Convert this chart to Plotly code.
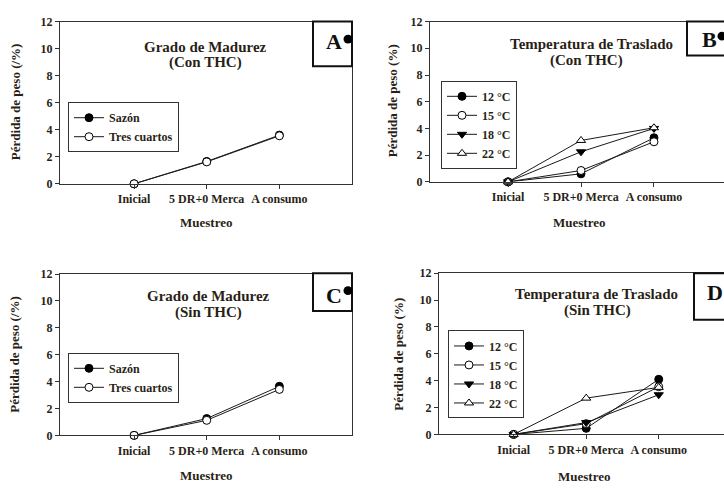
import plotly.graph_objects as go

W, H = 724, 489

# ---- data ----
categories = ["Inicial", "5 DR+0 Merca", "A consumo"]
cat_pos = [0, 1, 2]

a_sazon = [0, 1.65, 3.6]
a_tres = [0, 1.62, 3.55]

b_12 = [0, 0.6, 3.3]
b_15 = [0, 0.85, 3.0]
b_18 = [0, 2.25, 4.0]
b_22 = [0, 3.1, 4.05]

c_sazon = [0, 1.25, 3.65]
c_tres = [0, 1.12, 3.42]

d_12 = [0, 0.45, 4.1]
d_15 = [0, 0.8, 3.55]
d_18 = [0, 0.88, 2.95]
d_22 = [0, 2.7, 3.5]

y_ticks = [0, 2, 4, 6, 8, 10, 12]

FONT = "Liberation Serif"
TXT = "#2a1f16"
LINE = "#1a1a1a"

def px(x):
    return x / W

def py(y):
    return 1 - y / H

fig = go.Figure()

panels = {
    "A": dict(xd=(60, 352), yd=(15, 182), xr=(-1.02, 3.0), mirror=True),
    "B": dict(xd=(430, 724), yd=(15, 180), xr=(-1.07, 2.96), mirror=False),
    "C": dict(xd=(60, 352), yd=(275, 441), xr=(-1.02, 3.0), mirror=True),
    "D": dict(xd=(439, 724), yd=(274, 440), xr=(-1.03, 2.9), mirror=False),
}
axis_ids = {"A": ("x", "y"), "B": ("x2", "y2"), "C": ("x3", "y3"), "D": ("x4", "y4")}
legend_ids = {"A": "legend", "B": "legend2", "C": "legend3", "D": "legend4"}

sym_filled = dict(symbol="circle", color="black", line=dict(color="black", width=1))
sym_open = dict(symbol="circle", color="white", line=dict(color="black", width=1))
tri_down = dict(symbol="triangle-down", color="black", line=dict(color="black", width=1))
tri_up = dict(symbol="triangle-up", color="white", line=dict(color="black", width=1))

series = {
    "A": [("Sazón", a_sazon, sym_filled), ("Tres cuartos", a_tres, sym_open)],
    "B": [("12 °C", b_12, sym_filled), ("15 °C", b_15, sym_open),
          ("18 °C", b_18, tri_down), ("22 °C", b_22, tri_up)],
    "C": [("Sazón", c_sazon, sym_filled), ("Tres cuartos", c_tres, sym_open)],
    "D": [("12 °C", d_12, sym_filled), ("15 °C", d_15, sym_open),
          ("18 °C", d_18, tri_down), ("22 °C", d_22, tri_up)],
}

for key, lst in series.items():
    xa, ya = axis_ids[key]
    for name, vals, mk in lst:
        fig.add_trace(go.Scatter(
            x=cat_pos, y=vals, name=name, mode="lines+markers",
            xaxis=xa, yaxis=ya, legend=legend_ids[key],
            line=dict(color=LINE, width=1),
            marker=dict(size=8, **mk), cliponaxis=False,
        ))

layout = dict(
    width=W, height=H, margin=dict(l=0, r=0, t=0, b=0),
    paper_bgcolor="white", plot_bgcolor="white",
    font=dict(family=FONT, color=TXT, size=11),
)

for key, p in panels.items():
    xa, ya = axis_ids[key]
    xname = "xaxis" if xa == "x" else "xaxis" + xa[1:]
    yname = "yaxis" if ya == "y" else "yaxis" + ya[1:]
    layout[xname] = dict(
        domain=[px(p["xd"][0]), px(p["xd"][1])], range=list(p["xr"]),
        anchor=ya, tickmode="array", tickvals=cat_pos, ticktext=categories,
        ticks="outside", ticklen=4, tickcolor="#333", showgrid=False, zeroline=False,
        showline=True, linecolor="#333", linewidth=1, mirror=True,
        tickfont=dict(family=FONT, size=12, color=TXT, weight="bold"),
    )
    layout[yname] = dict(
        domain=[py(p["yd"][1]), py(p["yd"][0])], range=[0, 12],
        anchor=xa, tickmode="array", tickvals=y_ticks,
        ticks="outside", ticklen=4, tickcolor="#333", showgrid=False, zeroline=False,
        showline=True, linecolor="#333", linewidth=1, mirror=p["mirror"],
        tickfont=dict(family=FONT, size=12, color=TXT, weight="bold"),
    )

leg_boxes = {"A": (68, 98), "B": (441, 76), "C": (68, 356), "D": (448, 333)}
for key, (lx, ly) in leg_boxes.items():
    layout[legend_ids[key]] = dict(
        x=px(lx), y=py(ly), xanchor="left", yanchor="top",
        bordercolor="#333", borderwidth=1, bgcolor="white",
        font=dict(family=FONT, size=12, color=TXT, weight="bold"),
        tracegroupgap=0, itemwidth=30,
    )

fig.update_layout(**layout)

annotations = []
def text(x, y, s, size=15, color=TXT, angle=0):
    annotations.append(dict(
        x=px(x), y=py(y), xref="paper", yref="paper", text=s, showarrow=False,
        xanchor="center", yanchor="middle", textangle=angle,
        font=dict(family=FONT, size=size, color=color, weight="bold"),
    ))

# panel titles
text(205, 41, "Grado de Madurez")
text(205, 57, "(Con THC)")
text(591, 38, "Temperatura de Traslado")
text(586, 55, "(Con THC)")
text(208, 298, "Grado de Madurez")
text(208, 314, "(Sin THC)")
text(596, 295, "Temperatura de Traslado")
text(597, 312, "(Sin THC)")

# axis titles
text(15, 98, "Pérdida de peso (/%)", size=13, angle=-90)
text(392, 96, "Pérdida de peso (%)", size=13, angle=-90)
text(15, 358, "Pérdida de peso (/%)", size=13, angle=-90)
text(399, 357, "Pérdida de peso (%)", size=13, angle=-90)
text(206, 222, "Muestreo", size=13)
text(579, 222, "Muestreo", size=13)
text(206, 482, "Muestreo", size=13)
text(584, 483, "Muestreo", size=13)

# panel letters
text(334, 36, "A", size=22, color="#111")
text(709, 33, "B", size=22, color="#111")
text(334, 297, "C", size=22, color="#111")
text(715, 294, "D", size=22, color="#111")

shapes = []
def rect(x0, y0, x1, y1):
    shapes.append(dict(type="rect", xref="paper", yref="paper",
                       x0=px(x0), x1=px(x1), y0=py(y1), y1=py(y0),
                       line=dict(color="#111", width=2), fillcolor="rgba(0,0,0,0)"))
def dot(cx, cy, r=4.5):
    shapes.append(dict(type="circle", xref="paper", yref="paper",
                       x0=px(cx - r), x1=px(cx + r), y0=py(cy + r), y1=py(cy - r),
                       line=dict(color="black", width=0), fillcolor="black"))

rect(313, 15, 352, 61)
rect(687, 15, 730, 50)
rect(313, 274, 352, 313)
rect(694, 274, 730, 322)
dot(348, 33)
dot(722, 30)
dot(348, 292)

fig.update_layout(annotations=annotations, shapes=shapes)

fig.write_html("out.html")
